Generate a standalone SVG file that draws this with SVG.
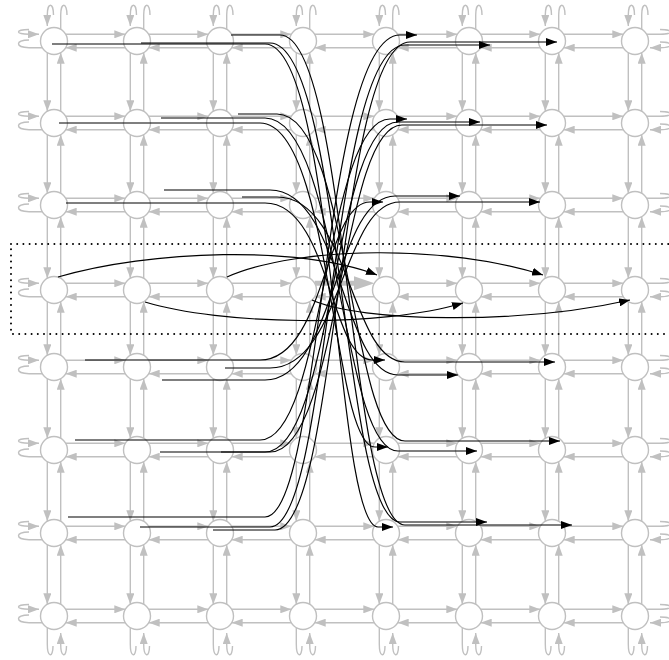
<svg xmlns="http://www.w3.org/2000/svg" xmlns:xlink="http://www.w3.org/1999/xlink" width="669" height="660" viewBox="0 0 669 660">
<style>
.g{stroke:#c0c0c0;stroke-width:1.4;fill:none}
.a{marker-end:url(#ag)}
circle{fill:#fff;stroke:#c0c0c0;stroke-width:1.4}
.k{stroke:#000;stroke-width:1.2;fill:none;marker-end:url(#ak)}
</style>
<defs>
<marker id="ag" viewBox="0 0 11 8" refX="11" refY="4" markerWidth="11" markerHeight="8" markerUnits="userSpaceOnUse" orient="auto"><path d="M0,0L11,4L0,8z" fill="#c0c0c0"/></marker>
<marker id="ak" viewBox="0 0 11 8" refX="11" refY="4" markerWidth="11" markerHeight="8" markerUnits="userSpaceOnUse" orient="auto"><path d="M0,0L11,4L0,8z" fill="#000"/></marker>
<g id="hp"><path class="g a" d="M11.7,-6.7H71.3"/><path class="g a" d="M71.3,6.7H11.7"/></g>
<g id="v82"><path class="g a" d="M-6.7,11.7V70.3"/><path class="g a" d="M6.7,70.3V11.7"/></g>
<g id="v85"><path class="g a" d="M-6.7,11.7V73.3"/><path class="g a" d="M6.7,73.3V11.7"/></g>
<g id="v77"><path class="g a" d="M-6.7,11.7V65.3"/><path class="g a" d="M6.7,65.3V11.7"/></g>
<g id="v83"><path class="g a" d="M-6.7,11.7V71.3"/><path class="g a" d="M6.7,71.3V11.7"/></g>
<g id="lL"><path class="g a" d="M-25,-11.5C-39,-11.5 -39,-6.7 -25,-6.7H-15"/><path class="g" d="M-11.7,6.7H-25C-39,6.7 -39,-1 -25,-1"/></g>
<g id="lR"><path class="g" d="M11.7,-6.7H25C39,-6.7 39,-11.5 25,-11.5"/><path class="g a" d="M25,1C39,1 39,6.7 25,6.7H15"/></g>
<g id="lT"><path class="g a" d="M-0.5,-26C-0.5,-39 -6.7,-39 -6.7,-26V-15"/><path class="g" d="M6.7,-11.7V-26C6.7,-39 13,-39 13,-26"/></g>
<g id="lB"><path class="g" d="M-6.7,11.7V28C-6.7,42 -1,42 -1,30"/><path class="g a" d="M12.5,30C12.5,42 6.7,42 6.7,28V17"/></g>
</defs>
<rect width="669" height="660" fill="#fff"/>
<g id="grid-edges">
<use href="#hp" x="54" y="41"/><use href="#hp" x="137" y="41"/><use href="#hp" x="220" y="41"/><use href="#hp" x="303" y="41"/><use href="#hp" x="386" y="41"/><use href="#hp" x="469" y="41"/><use href="#hp" x="552" y="41"/>
<use href="#hp" x="54" y="123"/><use href="#hp" x="137" y="123"/><use href="#hp" x="220" y="123"/><use href="#hp" x="303" y="123"/><use href="#hp" x="386" y="123"/><use href="#hp" x="469" y="123"/><use href="#hp" x="552" y="123"/>
<use href="#hp" x="54" y="205"/><use href="#hp" x="137" y="205"/><use href="#hp" x="220" y="205"/><use href="#hp" x="303" y="205"/><use href="#hp" x="386" y="205"/><use href="#hp" x="469" y="205"/><use href="#hp" x="552" y="205"/>
<use href="#hp" x="54" y="290"/><use href="#hp" x="137" y="290"/><use href="#hp" x="220" y="290"/><use href="#hp" x="386" y="290"/><use href="#hp" x="469" y="290"/><use href="#hp" x="552" y="290"/>
<path class="g a" d="M374.3,296.7H314.7"/>
<path d="M314.7,283.3H354" stroke="#c0c0c0" stroke-width="5" fill="none"/>
<polygon points="354,276.3 374.5,283.3 354,290.3" fill="#c0c0c0"/>
<use href="#hp" x="54" y="367"/><use href="#hp" x="137" y="367"/><use href="#hp" x="220" y="367"/><use href="#hp" x="303" y="367"/><use href="#hp" x="386" y="367"/><use href="#hp" x="469" y="367"/><use href="#hp" x="552" y="367"/>
<use href="#hp" x="54" y="450"/><use href="#hp" x="137" y="450"/><use href="#hp" x="220" y="450"/><use href="#hp" x="303" y="450"/><use href="#hp" x="386" y="450"/><use href="#hp" x="469" y="450"/><use href="#hp" x="552" y="450"/>
<use href="#hp" x="54" y="533"/><use href="#hp" x="137" y="533"/><use href="#hp" x="220" y="533"/><use href="#hp" x="303" y="533"/><use href="#hp" x="386" y="533"/><use href="#hp" x="469" y="533"/><use href="#hp" x="552" y="533"/>
<use href="#hp" x="54" y="616"/><use href="#hp" x="137" y="616"/><use href="#hp" x="220" y="616"/><use href="#hp" x="303" y="616"/><use href="#hp" x="386" y="616"/><use href="#hp" x="469" y="616"/><use href="#hp" x="552" y="616"/>
<use href="#v82" x="54" y="41"/><use href="#v82" x="137" y="41"/><use href="#v82" x="220" y="41"/><use href="#v82" x="303" y="41"/><use href="#v82" x="386" y="41"/><use href="#v82" x="469" y="41"/><use href="#v82" x="552" y="41"/><use href="#v82" x="635" y="41"/>
<use href="#v82" x="54" y="123"/><use href="#v82" x="137" y="123"/><use href="#v82" x="220" y="123"/><use href="#v82" x="303" y="123"/><use href="#v82" x="386" y="123"/><use href="#v82" x="469" y="123"/><use href="#v82" x="552" y="123"/><use href="#v82" x="635" y="123"/>
<use href="#v85" x="54" y="205"/><use href="#v85" x="137" y="205"/><use href="#v85" x="220" y="205"/><use href="#v85" x="303" y="205"/><use href="#v85" x="386" y="205"/><use href="#v85" x="469" y="205"/><use href="#v85" x="552" y="205"/><use href="#v85" x="635" y="205"/>
<use href="#v77" x="54" y="290"/><use href="#v77" x="137" y="290"/><use href="#v77" x="220" y="290"/><use href="#v77" x="303" y="290"/><use href="#v77" x="386" y="290"/><use href="#v77" x="469" y="290"/><use href="#v77" x="552" y="290"/><use href="#v77" x="635" y="290"/>
<use href="#v83" x="54" y="367"/><use href="#v83" x="137" y="367"/><use href="#v83" x="220" y="367"/><use href="#v83" x="303" y="367"/><use href="#v83" x="386" y="367"/><use href="#v83" x="469" y="367"/><use href="#v83" x="552" y="367"/><use href="#v83" x="635" y="367"/>
<use href="#v83" x="54" y="450"/><use href="#v83" x="137" y="450"/><use href="#v83" x="220" y="450"/><use href="#v83" x="303" y="450"/><use href="#v83" x="386" y="450"/><use href="#v83" x="469" y="450"/><use href="#v83" x="552" y="450"/><use href="#v83" x="635" y="450"/>
<use href="#v83" x="54" y="533"/><use href="#v83" x="137" y="533"/><use href="#v83" x="220" y="533"/><use href="#v83" x="303" y="533"/><use href="#v83" x="386" y="533"/><use href="#v83" x="469" y="533"/><use href="#v83" x="552" y="533"/><use href="#v83" x="635" y="533"/>
<use href="#lL" x="54" y="41"/><use href="#lL" x="54" y="123"/><use href="#lL" x="54" y="205"/><use href="#lL" x="54" y="290"/><use href="#lL" x="54" y="367"/><use href="#lL" x="54" y="450"/><use href="#lL" x="54" y="533"/><use href="#lL" x="54" y="616"/>
<use href="#lR" x="635" y="41"/><use href="#lR" x="635" y="123"/><use href="#lR" x="635" y="205"/><use href="#lR" x="635" y="290"/><use href="#lR" x="635" y="367"/><use href="#lR" x="635" y="450"/><use href="#lR" x="635" y="533"/><use href="#lR" x="635" y="616"/>
<use href="#lT" x="54" y="41"/><use href="#lT" x="137" y="41"/><use href="#lT" x="220" y="41"/><use href="#lT" x="303" y="41"/><use href="#lT" x="386" y="41"/><use href="#lT" x="469" y="41"/><use href="#lT" x="552" y="41"/><use href="#lT" x="635" y="41"/>
<use href="#lB" x="54" y="616"/><use href="#lB" x="137" y="616"/><use href="#lB" x="220" y="616"/><use href="#lB" x="303" y="616"/><use href="#lB" x="386" y="616"/><use href="#lB" x="469" y="616"/><use href="#lB" x="552" y="616"/><use href="#lB" x="635" y="616"/>
</g>
<g id="nodes">
<g id="n0_0"><circle cx="54" cy="41" r="13.5"/></g><g id="n0_1"><circle cx="137" cy="41" r="13.5"/></g><g id="n0_2"><circle cx="220" cy="41" r="13.5"/></g><g id="n0_3"><circle cx="303" cy="41" r="13.5"/></g><g id="n0_4"><circle cx="386" cy="41" r="13.5"/></g><g id="n0_5"><circle cx="469" cy="41" r="13.5"/></g><g id="n0_6"><circle cx="552" cy="41" r="13.5"/></g><g id="n0_7"><circle cx="635" cy="41" r="13.5"/></g>
<g id="n1_0"><circle cx="54" cy="123" r="13.5"/></g><g id="n1_1"><circle cx="137" cy="123" r="13.5"/></g><g id="n1_2"><circle cx="220" cy="123" r="13.5"/></g><g id="n1_3"><circle cx="303" cy="123" r="13.5"/></g><g id="n1_4"><circle cx="386" cy="123" r="13.5"/></g><g id="n1_5"><circle cx="469" cy="123" r="13.5"/></g><g id="n1_6"><circle cx="552" cy="123" r="13.5"/></g><g id="n1_7"><circle cx="635" cy="123" r="13.5"/></g>
<g id="n2_0"><circle cx="54" cy="205" r="13.5"/></g><g id="n2_1"><circle cx="137" cy="205" r="13.5"/></g><g id="n2_2"><circle cx="220" cy="205" r="13.5"/></g><g id="n2_3"><circle cx="303" cy="205" r="13.5"/></g><g id="n2_4"><circle cx="386" cy="205" r="13.5"/></g><g id="n2_5"><circle cx="469" cy="205" r="13.5"/></g><g id="n2_6"><circle cx="552" cy="205" r="13.5"/></g><g id="n2_7"><circle cx="635" cy="205" r="13.5"/></g>
<g id="n3_0"><circle cx="54" cy="290" r="13.5"/></g><g id="n3_1"><circle cx="137" cy="290" r="13.5"/></g><g id="n3_2"><circle cx="220" cy="290" r="13.5"/></g><g id="n3_3"><circle cx="303" cy="290" r="13.5"/></g><g id="n3_4"><circle cx="386" cy="290" r="13.5"/></g><g id="n3_5"><circle cx="469" cy="290" r="13.5"/></g><g id="n3_6"><circle cx="552" cy="290" r="13.5"/></g><g id="n3_7"><circle cx="635" cy="290" r="13.5"/></g>
<g id="n4_0"><circle cx="54" cy="367" r="13.5"/></g><g id="n4_1"><circle cx="137" cy="367" r="13.5"/></g><g id="n4_2"><circle cx="220" cy="367" r="13.5"/></g><g id="n4_3"><circle cx="303" cy="367" r="13.5"/></g><g id="n4_4"><circle cx="386" cy="367" r="13.5"/></g><g id="n4_5"><circle cx="469" cy="367" r="13.5"/></g><g id="n4_6"><circle cx="552" cy="367" r="13.5"/></g><g id="n4_7"><circle cx="635" cy="367" r="13.5"/></g>
<g id="n5_0"><circle cx="54" cy="450" r="13.5"/></g><g id="n5_1"><circle cx="137" cy="450" r="13.5"/></g><g id="n5_2"><circle cx="220" cy="450" r="13.5"/></g><g id="n5_3"><circle cx="303" cy="450" r="13.5"/></g><g id="n5_4"><circle cx="386" cy="450" r="13.5"/></g><g id="n5_5"><circle cx="469" cy="450" r="13.5"/></g><g id="n5_6"><circle cx="552" cy="450" r="13.5"/></g><g id="n5_7"><circle cx="635" cy="450" r="13.5"/></g>
<g id="n6_0"><circle cx="54" cy="533" r="13.5"/></g><g id="n6_1"><circle cx="137" cy="533" r="13.5"/></g><g id="n6_2"><circle cx="220" cy="533" r="13.5"/></g><g id="n6_3"><circle cx="303" cy="533" r="13.5"/></g><g id="n6_4"><circle cx="386" cy="533" r="13.5"/></g><g id="n6_5"><circle cx="469" cy="533" r="13.5"/></g><g id="n6_6"><circle cx="552" cy="533" r="13.5"/></g><g id="n6_7"><circle cx="635" cy="533" r="13.5"/></g>
<g id="n7_0"><circle cx="54" cy="616" r="13.5"/></g><g id="n7_1"><circle cx="137" cy="616" r="13.5"/></g><g id="n7_2"><circle cx="220" cy="616" r="13.5"/></g><g id="n7_3"><circle cx="303" cy="616" r="13.5"/></g><g id="n7_4"><circle cx="386" cy="616" r="13.5"/></g><g id="n7_5"><circle cx="469" cy="616" r="13.5"/></g><g id="n7_6"><circle cx="552" cy="616" r="13.5"/></g><g id="n7_7"><circle cx="635" cy="616" r="13.5"/></g>
</g>
<g id="connectors">
<path class="k" d="M52,44H265C335,44 335,527 378,527H393"/>
<path class="k" d="M141,43H270C342,43 342,522 400,522H487"/>
<path class="k" d="M231,35H280C348,35 348,525 405,525H572"/>
<path class="k" d="M59,123H260C332,123 332,447 375,447H388"/>
<path class="k" d="M161,118H265C340,118 340,451 398,451H477"/>
<path class="k" d="M238,114H277C350,114 350,441 405,441H560"/>
<path class="k" d="M66,203H265C330,203 330,360 372,360H385"/>
<path class="k" d="M164,190H270C342,190 342,375 398,375H458"/>
<path class="k" d="M242,197H277C350,197 350,362 405,362H555"/>
<path class="k" d="M85,360H260C325,360 325,202 370,202H383"/>
<path class="k" d="M162,380H265C335,380 335,196 395,196H460"/>
<path class="k" d="M225,368H270C342,368 342,202 400,202H540"/>
<path class="k" d="M75,440H260C325,440 325,119 390,119H407"/>
<path class="k" d="M160,452H265C333,452 333,122 398,122H480"/>
<path class="k" d="M221,452H270C340,452 340,125 402,125H547"/>
<path class="k" d="M68,517H265C322,517 322,35 400,35H417"/>
<path class="k" d="M140,527H270C330,527 330,45 405,45H490"/>
<path class="k" d="M213,530H275C338,530 338,42 410,42H557"/>
<path class="k" d="M58,277C150,250 300,245 377,275"/>
<path class="k" d="M145,302C220,325 380,328 463,303"/>
<path class="k" d="M227,277C300,245 450,245 543,275"/>
<path class="k" d="M312,300C360,322 520,325 630,300"/>
</g>
<rect id="cluster" x="11" y="244" width="700" height="90" fill="none" stroke="#000" stroke-width="2" stroke-dasharray="0 6.2" stroke-linecap="round"/>
</svg>
